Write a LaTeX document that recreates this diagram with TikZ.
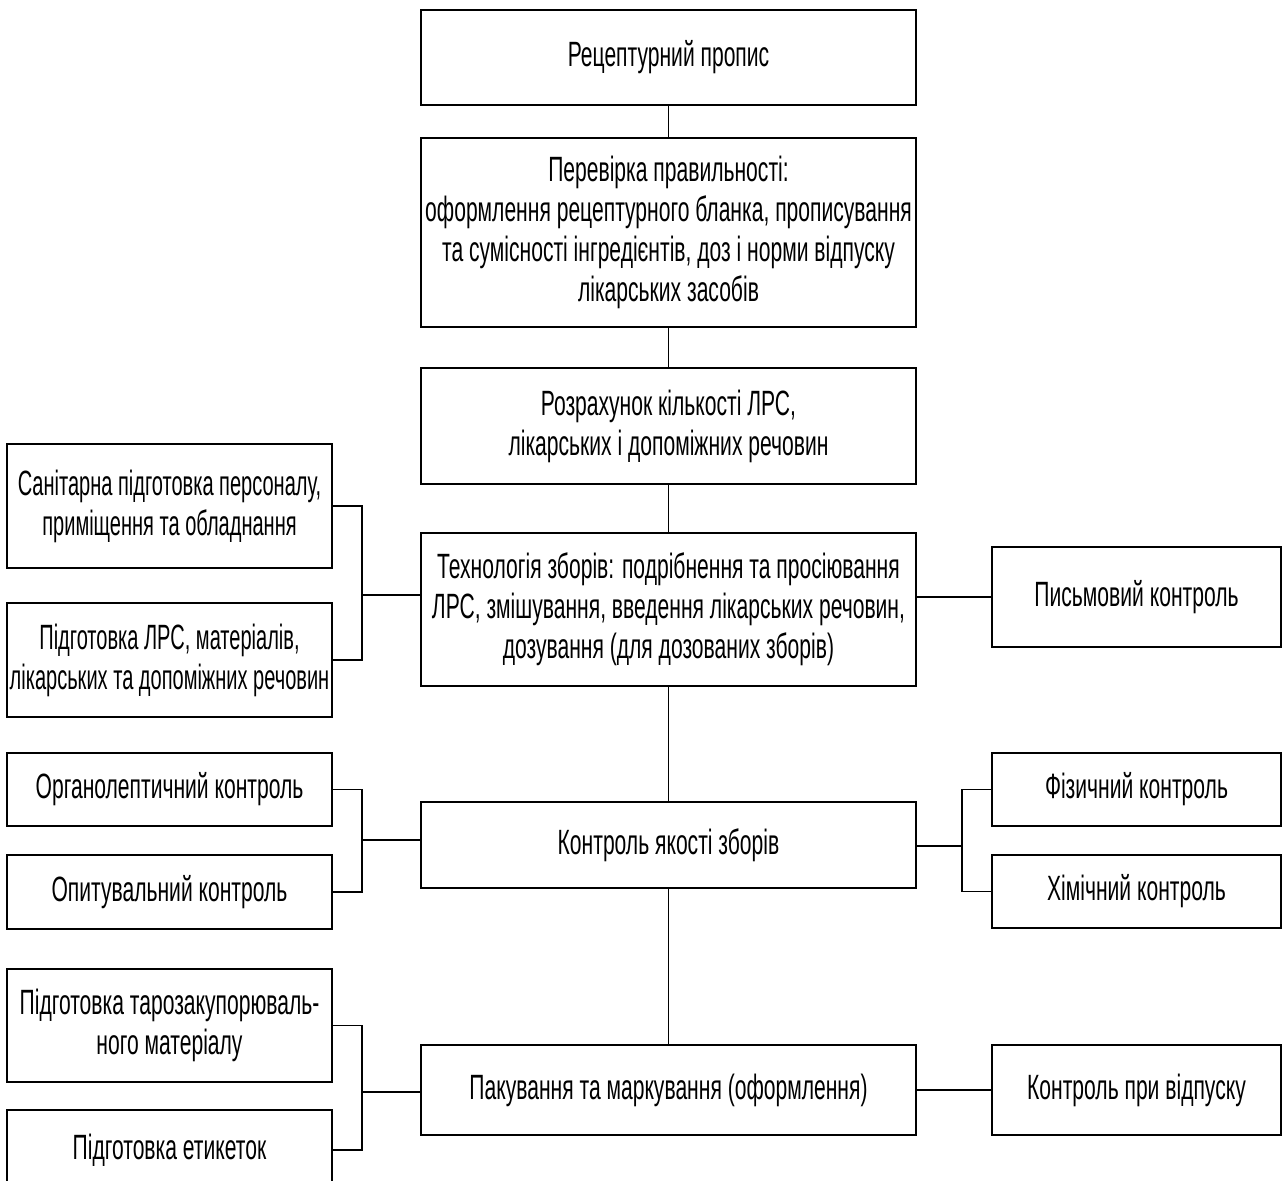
\documentclass[tikz,border=0pt]{standalone}
\usepackage{fontspec}
\setmainfont{Liberation Sans}[FakeStretch=0.6]
\newfontfamily\narrowfont{Liberation Sans}[FakeStretch=0.57]

\begin{document}
\begin{tikzpicture}[
                    x=0.02cm, y=-0.02cm,
                    box/.style={draw, line width=1.1pt, align=center, inner sep=1pt,
                        font=\fontsize{20}{22.7}\selectfont},
                    mainbox/.style={box, minimum width=9.9cm},
                    leftbox/.style={box, minimum width=6.5cm},
                    rightbox/.style={box, minimum width=5.78cm},
                    link/.style={line width=0.9pt}
                ]
                \useasboundingbox (0, 0) rectangle (1283, 1180);
                \def\lx{169.5}
                \def\rx{1136.5}
                \def\mx{668.5}

                % middle column
                \node (recipe) at (\mx, 57.5) [mainbox, minimum height=1.9cm] {Рецептурний пропис};
                \node (check) at (\mx, 232.5) [mainbox, minimum height=3.78cm]
                    {Перевірка правильності:\\оформлення рецептурного бланка, прописування\\та сумісності інгредієнтів, доз і норми відпуску\\лікарських засобів};
                \node (calc) at (\mx, 426) [mainbox, minimum height=2.32cm]
                    {Розрахунок кількості ЛРС,\\лікарських і допоміжних речовин};
                \node (tech) at (\mx, 609.5) [mainbox, minimum height=3.06cm]
                    {Технологія зборів: подрібнення та просіювання\\ЛРС, змішування, введення лікарських речовин,\\дозування (для дозованих зборів)};
                \node (quality) at (\mx, 845) [mainbox, minimum height=1.72cm] {Контроль якості зборів};
                \node (pack) at (\mx, 1090) [mainbox, minimum height=1.8cm] {Пакування та маркування (оформлення)};

                % left column
                \node (sanit) at (\lx, 506) [leftbox, minimum height=2.48cm]
                    {\narrowfont Санітарна підготовка персоналу,\\\narrowfont приміщення та обладнання};
                \node (prep) at (\lx, 660) [leftbox, minimum height=2.28cm]
                    {\narrowfont Підготовка ЛРС, матеріалів,\\\narrowfont лікарських та допоміжних речовин};
                \node (organo) at (\lx, 789.5) [leftbox, minimum height=1.46cm] {Органолептичний контроль};
                \node (survey) at (\lx, 892) [leftbox, minimum height=1.48cm] {Опитувальний контроль};
                \node (tare) at (\lx, 1025.5) [leftbox, minimum height=2.26cm]
                    {Підготовка тарозакупорюваль-\\ного матеріалу};
                \node (label) at (\lx, 1150) [leftbox, minimum height=1.6cm] {Підготовка етикеток};

                % right column
                \node (written) at (\rx, 597) [rightbox, minimum height=2cm] {Письмовий контроль};
                \node (phys) at (\rx, 789.5) [rightbox, minimum height=1.46cm] {Фізичний контроль};
                \node (chem) at (\rx, 891.5) [rightbox, minimum height=1.46cm] {Хімічний контроль};
                \node (release) at (\rx, 1090) [rightbox, minimum height=1.8cm] {Контроль при відпуску};

                % main chain
                \draw[link] (recipe) -- (check);
                \draw[link] (check) -- (calc);
                \draw[link] (calc) -- (tech);
                \draw[link] (tech) -- (quality);
                \draw[link] (quality) -- (pack);

                % brackets
                \coordinate (jl1) at (362, 595);
                \coordinate (jl2) at (362, 840);
                \coordinate (jl3) at (362, 1092);
                \coordinate (jr2) at (962, 846);
                \draw[link] (sanit.east) -| (jl1) |- (prep.east);
                \draw[link] (jl1) -- (jl1 -| tech.west);
                \draw[link] (organo.east) -| (jl2) |- (survey.east);
                \draw[link] (jl2) -- (jl2 -| quality.west);
                \draw[link] (tare.east) -| (jl3) |- (label.east);
                \draw[link] (jl3) -- (jl3 -| pack.west);

                \draw[link] (written.west) -- (written.west -| tech.east);
                \draw[link] (phys.west) -| (jr2) |- (chem.west);
                \draw[link] (jr2) -- (jr2 -| quality.east);
                \draw[link] (release.west) -- (release.west -| pack.east);
            \end{tikzpicture}
\end{document}
